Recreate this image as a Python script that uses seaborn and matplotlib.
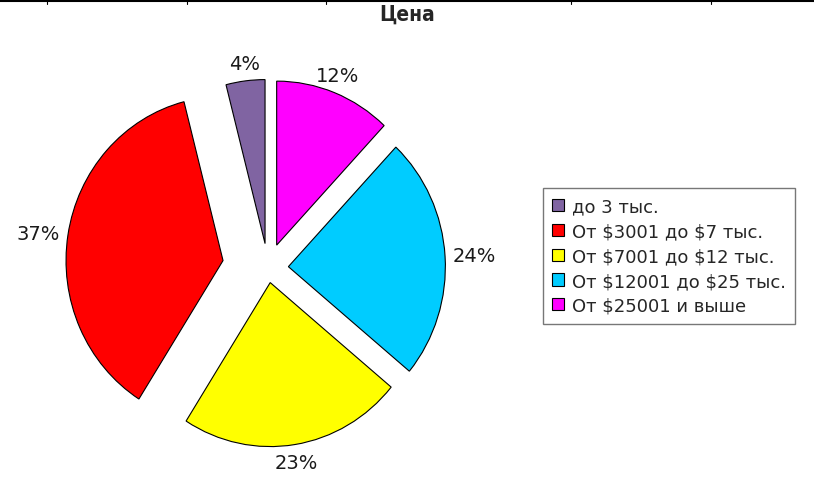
import matplotlib
matplotlib.use("Agg")
import matplotlib.pyplot as plt
import seaborn as sns
import numpy as np
from matplotlib.lines import Line2D

# ---- data ----
categories = ["до 3 тыс.", "От \\$3001 до \\$7 тыс.", "От \\$7001 до \\$12 тыс.",
              "От \\$12001 до \\$25 тыс.", "От \\$25001 и выше"]
shares = [4, 37, 23, 24, 12]
colors = ["#8064a2", "#ff0000", "#ffff00", "#00ccff", "#ff00ff"]
explode = [0.15, 0.29, 0.09, 0.13, 0.15]

sns.set_style("white")
plt.rcParams["font.family"] = ["DejaVu Sans"]

W, H = 814, 485
fig = plt.figure(figsize=(W / 100, H / 100), dpi=100)
ax = fig.add_axes([0, 0, 1, 1])

wedges, texts, autotexts = ax.pie(
    shares, colors=colors, explode=explode, startangle=90, counterclock=True,
    autopct="%.0f%%", pctdistance=1.05,
    wedgeprops=dict(edgecolor="black", linewidth=0.8),
    textprops=dict(fontsize=14, color="#1a1a1a"),
)

# align each % label so its nearest edge faces the wedge
for w, t in zip(wedges, autotexts):
    mid = np.deg2rad((w.theta1 + w.theta2) / 2)
    c, s = np.cos(mid), np.sin(mid)
    t.set_ha("left" if c > 0.5 else "right" if c < -0.5 else "center")
    t.set_va("bottom" if s > 0.5 else "top" if s < -0.5 else "center")

# pie centre / radius in pixels (slightly taller than wide, like the original)
cx, cy, rx, ry = 268, 269, 157, 164
ax.set_aspect("auto")
ax.set_xlim(-cx / rx, (W - cx) / rx)
ax.set_ylim(-(H - cy) / ry, cy / ry)
ax.axis("off")

fig.legend(wedges, categories, loc="center left",
           bbox_to_anchor=(543 / W, 1 - 257 / H),
           frameon=True, fancybox=False, edgecolor="#555555",
           fontsize=13, handlelength=0.65, handleheight=0.65,
           handletextpad=0.45, labelspacing=0.38, borderpad=0.5,
           borderaxespad=0)

fig.text(0.5, 1 - 15 / H, "Цена", ha="center", va="center",
         fontsize=15, fontweight="bold", fontstretch="condensed")

# table border at the very top
fig.add_artist(Line2D([0, 1], [1 - 2 / H] * 2, color="black", lw=1.5,
                      transform=fig.transFigure))
for x in [47, 187, 326, 571, 711]:
    fig.add_artist(Line2D([x / W] * 2, [1, 1 - 5 / H], color="black", lw=0.8,
                          transform=fig.transFigure))

fig.savefig("out.png", dpi=100)
plt.close(fig)
